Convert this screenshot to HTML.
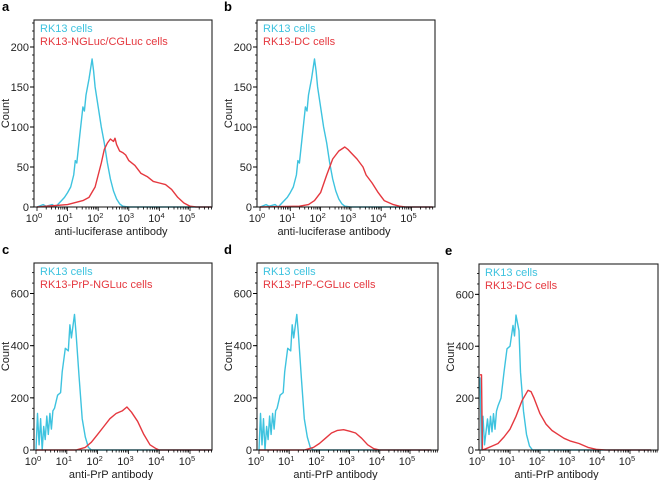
<!DOCTYPE html>
<html><head><meta charset="utf-8"><style>
html,body{margin:0;padding:0;background:#fff}
svg{display:block;font-family:"Liberation Sans",Arial,sans-serif}
</style></head><body>
<svg id="fig" width="659" height="480" viewBox="0 0 659 480" xmlns="http://www.w3.org/2000/svg"></svg>
<script>
// ---- data (x in log10 units, y counts) ----
const blueAX=[0,0.2,0.3,0.5,0.6,0.8,0.9,1.0,1.1,1.2,1.25,1.3,1.4,1.5,1.55,1.6,1.7,1.8,1.85,1.9,2.0,2.1,2.2,2.3,2.4,2.5,2.6,2.7,2.8,3.0,5.7];
const blueAY=[0,3,1,3,0,8,12,18,25,40,58,55,90,125,120,140,160,185,170,150,125,100,80,55,35,20,10,4,1,0,0];
const redAX=[0,1.0,1.5,1.7,1.9,2.0,2.1,2.2,2.3,2.4,2.5,2.55,2.6,2.7,2.8,2.9,3.0,3.2,3.4,3.6,3.8,4.0,4.2,4.4,4.6,4.8,5.0,5.2,5.7];
const redAY=[0,3,8,12,25,40,55,72,80,85,82,86,78,70,68,65,58,52,42,38,32,30,28,22,12,5,1,0,0];
const redBX=[0,1.3,1.6,1.8,2.0,2.2,2.4,2.6,2.8,2.9,3.0,3.2,3.4,3.5,3.7,3.9,4.1,4.4,4.6,4.8,5.7];
const redBY=[0,1,3,8,18,40,60,70,75,72,68,60,50,40,30,18,8,3,1,0,0];
const blueCX=[0,0.05,0.1,0.15,0.2,0.25,0.3,0.35,0.4,0.45,0.5,0.55,0.6,0.7,0.8,0.85,0.95,1.05,1.1,1.15,1.25,1.3,1.4,1.5,1.6,1.7,1.8,5.7];
const blueCY=[0,140,20,120,0,90,40,130,60,140,80,150,160,210,220,300,390,380,480,430,520,450,280,120,50,10,0,0];
const redCX=[0,1.3,1.6,1.8,2.0,2.2,2.4,2.6,2.8,2.95,3.1,3.3,3.5,3.7,3.9,4.0,5.7];
const redCY=[0,0,10,30,60,90,120,140,150,165,145,110,60,20,5,0,0];
const redDX=[0,1.5,1.8,2.0,2.2,2.4,2.6,2.8,3.0,3.2,3.4,3.6,3.8,4.0,5.7];
const redDY=[0,0,10,25,45,65,75,78,72,65,45,20,5,0,0];
const blueEX=[0,0.05,0.1,0.15,0.25,0.3,0.35,0.4,0.45,0.5,0.55,0.6,0.7,0.8,0.9,1.0,1.1,1.15,1.2,1.3,1.35,1.45,1.55,1.65,1.75,1.85,5.7];
const blueEY=[280,0,130,20,120,60,130,70,140,80,150,170,200,300,390,400,480,440,520,460,300,150,60,15,0,0,0];
const redEX=[0,0.05,0.08,0.2,0.4,0.6,0.8,1.0,1.2,1.4,1.6,1.7,1.8,2.0,2.2,2.4,2.6,2.8,3.0,3.3,3.6,3.9,4.2,5.7];
const redEY=[290,290,0,5,15,25,50,80,130,190,230,225,200,140,100,75,60,45,35,25,10,2,0,0];
const yTicksTop=[0,50,100,150,200];
const yTicksBot=[0,200,400,600];
const xDecades=[0,1,2,3,4,5];

const NS="http://www.w3.org/2000/svg";
const svg=document.getElementById('fig');
function mk(tag,attrs,parent){const e=document.createElementNS(NS,tag);for(const k in attrs)e.setAttribute(k,attrs[k]);(parent||svg).appendChild(e);return e;}

const panels=[
 {id:'a',L:34,R:212,T:20,B:207,x0:37,dec:30.6,ymax:233.75,yt:yTicksTop,minor:10,xlabel:'anti-luciferase antibody',leg:'RK13-NGLuc/CGLuc cells',blue:[blueAX,blueAY],red:[redAX,redAY],lx:0},
 {id:'b',L:257,R:435,T:20,B:207,x0:260,dec:30.3,ymax:233.75,yt:yTicksTop,minor:10,xlabel:'anti-luciferase antibody',leg:'RK13-DC cells',blue:[blueAX,blueAY],red:[redBX,redBY],lx:222},
 {id:'c',L:34,R:212,T:263,B:450,x0:36,dec:30.8,ymax:717,yt:yTicksBot,minor:40,xlabel:'anti-PrP antibody',leg:'RK13-PrP-NGLuc cells',blue:[blueCX,blueCY],red:[redCX,redCY],lx:0},
 {id:'d',L:257,R:438,T:263,B:450,x0:259,dec:30.2,ymax:717,yt:yTicksBot,minor:40,xlabel:'anti-PrP antibody',leg:'RK13-PrP-CGLuc cells',blue:[blueCX,blueCY],red:[redDX,redDY],lx:222},
 {id:'e',L:479,R:658,T:264,B:450,x0:480,dec:30,ymax:717,yt:yTicksBot,minor:40,xlabel:'anti-PrP antibody',leg:'RK13-DC cells',blue:[blueEX,blueEY],red:[redEX,redEY],lx:443}
];
const BLUE='#3ec3df',RED='#e5383f';
panels.forEach(p=>{
 const g=mk('g',{});
 
 
 const xs=v=>p.x0+v*p.dec;
 const ys=v=>p.B-(v/p.ymax)*(p.B-p.T);
 const lab=mk('text',{x:p.lx+2,y:p.T-9,'font-size':13,'font-weight':'bold',fill:'#000'},g);
 lab.textContent=p.id;
 
 
 [[p.blue,BLUE,'rk13-series'],[p.red,RED,'treated-series']].forEach(([s,c,n])=>{
  let d='';s[0].forEach((x,i)=>{d+=(i?'L':'M')+Math.min(xs(x),p.R).toFixed(1)+','+ys(s[1][i]).toFixed(1);});
  const pa=mk('path',{d:d,fill:'none',stroke:c,'stroke-width':1.4,'stroke-linejoin':'round'},g);
  
  
 });
 const box=mk('rect',{x:p.L,y:p.T,width:p.R-p.L,height:p.B-p.T,fill:'none',stroke:'#222','stroke-width':1.1},g);
 
 
 for(let v=0;v<=p.ymax;v+=p.minor){const y=ys(v);mk('line',{x1:p.L-2,x2:p.L,y1:y,y2:y,stroke:'#000','stroke-width':0.8},g);}
 p.yt.forEach(v=>{const y=ys(v);mk('line',{x1:p.L-4,x2:p.L,y1:y,y2:y,stroke:'#000','stroke-width':1},g);
  const t=mk('text',{x:p.L-5,y:y+4,'font-size':11,'text-anchor':'end',fill:'#222'},g);t.textContent=v;
  
  });
 const yt=mk('text',{transform:`translate(${p.L-25},${(p.T+p.B)/2}) rotate(-90)`,'font-size':11,'text-anchor':'middle',fill:'#222'},g);
 yt.textContent='Count';
 
 
 for(let d=0;d<6;d++){for(let m=1;m<10;m++){const x=xs(d+Math.log10(m));if(x>p.R)continue;
   mk('line',{x1:x,x2:x,y1:p.B,y2:p.B+(m==1?4:2.5),stroke:'#000','stroke-width':0.8},g);}}
 xDecades.forEach(d=>{const t=mk('text',{x:xs(d)-3,y:p.B+15,'font-size':11,'text-anchor':'middle',fill:'#222'},g);
  t.textContent='10';const s=mk('tspan',{dy:-4,'font-size':7.5},t);s.textContent=d;
  
  });
 const xt=mk('text',{x:(p.L+p.R)/2-12,y:p.B+28,'font-size':11,'text-anchor':'middle',fill:'#222'},g);
 xt.textContent=p.xlabel;
 
 
 const l1=mk('text',{x:p.L+6,y:p.T+12,'font-size':11,fill:BLUE},g);l1.textContent='RK13 cells';
 
 
 const l2=mk('text',{x:p.L+6,y:p.T+25,'font-size':11,fill:RED},g);l2.textContent=p.leg;
 
 
});
</script>
</body></html>
